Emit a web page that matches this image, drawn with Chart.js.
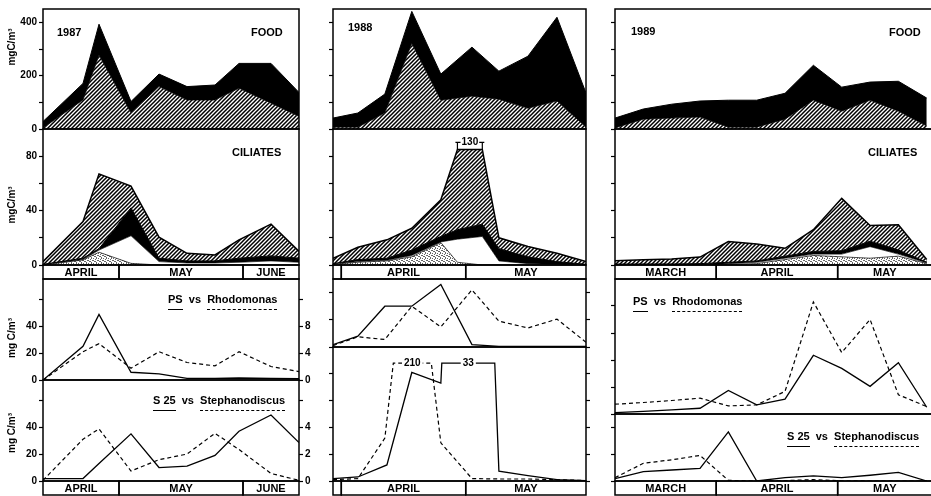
<!DOCTYPE html>
<html><head><meta charset="utf-8">
<script src="https://cdn.jsdelivr.net/npm/chart.js@4.4.1/dist/chart.umd.min.js"></script>
<style>
html,body{margin:0;padding:0;background:#fff;}
body{width:931px;height:496px;overflow:hidden;position:relative;}
canvas{position:absolute;}
.t{position:absolute;font-family:"Liberation Sans","Arimo",sans-serif;font-weight:bold;font-size:11px;color:#000;white-space:nowrap;line-height:1;}
.yt{transform:translate(-50%,-50%) rotate(-90deg);font-size:10px;}
.u{border-bottom:1.5px solid #000;padding-bottom:4px;}
.d{border-bottom:1.5px dashed #000;padding-bottom:4px;}
</style></head><body>
<script>
// ---------------- DATA (days counted from 1 April) ----------------
// 1987
const months87 = ['APRIL','MAY','JUNE'];
const monthStarts87 = [0,30,61];
const days87 = [11,21,25,33,40,47,54,60,68,75];
const foodHatched87 = [4,109,277,60,159,109,109,153,97,47];
const foodBlack87   = [24,62,116,43,47,50,56,93,149,90];
const cilStipple87  = [0,3.7,9.4,1.2,0,0,0,0,0,0];
const cilWhite87    = [0,0.3,1.6,20.3,2.5,1.5,1.5,2,3,2];
const cilBlack87    = [0.5,1,1,20.5,2.5,1.5,1.5,3,3.7,3];
const cilHatched87  = [2,27,55,16,15.5,5.6,4.4,13.5,23.3,5];
const ps87    = [0,5,9.75,1.15,0.9,0.25,0.25,0.3,0.25,0.2];      // right axis
const rhodo87 = [0,21,27,8.75,21,13,10.5,21,10,6.25];            // left axis
const s25_87  = [0.18,0.18,1.3,3.5,1.0,1.1,1.9,3.7,4.9,2.85];    // right axis
const steph87 = [0.5,31,38.7,7.4,15.8,20,35.4,23.4,5.6,0.5];     // left axis

// 1988
const months88 = ['MARCH','APRIL','MAY'];
const monthStarts88 = [-31,0,30];
const foodDays88 = [-2,4,10.5,17,24,31.5,38,45,52,59];
const foodHatched88 = [7,7,60,321,108,123,112,78,105,7];
const foodBlack88   = [34,53,71,120,98,184,105,195,314,128];
const cilDays88 = [-2,4,11,17,24,28,34,38,45,52,59];
const cilStipple88 = [0.5,2,3,6,16.5,2,0,0,0,0,0];
const cilWhite88   = [0,0.5,0.5,1,0.5,17,21,3,1,0.5,0];
const cilBlack88   = [0.5,1.5,1.5,4,4,7,9,9,5,2,0.5];
const cilHatched88 = [4,9,13.5,16,27,104,100,8,7.6,6.1,2];
const ps88    = [0.35,1.6,6,6,9.2,0.35,0.1,0.1,0.1,0.1];        // foodDays88, right axis
const rhodo88 = [1,7.5,5.5,30,14.75,42,19,14,20.5,3.5];          // foodDays88, left axis
const s25_88  = [0.18,0.3,1.2,8.1,7.3,33,33,0.74,0.4,0.1,0.02];  // cilDays88, right axis
const steph88 = [1,1.8,32,210,28.5,1.8,1.5,1.5,1,0.3];           // foodDays88, left axis
const CIL_CAP88 = 85, STEPH_CAP88 = 88, S25_CAP88 = 8.8;

// 1989
const months89 = ['MARCH','APRIL','MAY'];
const monthStarts89 = [-31,0,30];
const days89 = [-25,-18,-11,-4,3,10,17,24,31,38,45,52];
const foodHatched89 = [4,37,41,45,7,7,37,108,67,108,67,11];
const foodBlack89   = [37,38,52,60,101,101,97,131,90,68,112,105];
const cilStipple89 = [0,0,0,0,0.5,1,4,7,6,5,6.5,1];
const cilWhite89   = [0,0,0,0,0.5,1,1,1,2,8.5,1.5,0.5];
const cilBlack89   = [0.7,0.8,0.8,1,1,1,1.5,2,2.5,4,3,0.5];
const cilHatched89 = [2.5,3,3.7,4.8,15.3,12.5,5.8,16,38.5,11.5,18.6,2];
const ps89    = [0.2,0.4,0.6,0.85,3.5,1.35,2.2,8.7,6.75,4.1,7.6,1];
const rhodo89 = [7.25,8.5,10,11.75,6,6.75,16.75,83,45.5,70,14.25,5.5];
const s25_89  = [0.18,0.7,0.82,0.94,3.67,0,0.25,0.38,0.25,0.43,0.64,0];
const steph89 = [2.5,13.2,15.8,19.1,0.5,0,0.3,1,0.2,0,0,0];

// tick values
const foodTicks = [0,100,200,300,400], foodLabels = [0,200,400];
const cilTicks = [0,20,40,60,80], cilLabels = [0,40,80];

// ---------------- HELPERS ----------------
const FONT = '"Liberation Sans","Arimo",sans-serif';
function makeHatch(){ const c=document.createElement('canvas'); c.width=4; c.height=4; const g=c.getContext('2d');
  g.fillStyle='#fff'; g.fillRect(0,0,4,4); g.strokeStyle='#000'; g.lineWidth=1.5; g.beginPath();
  g.moveTo(-1,5); g.lineTo(5,-1); g.moveTo(-1,1); g.lineTo(1,-1); g.moveTo(3,5); g.lineTo(5,3); g.stroke();
  return g.createPattern(c,'repeat'); }
function makeStipple(){ const c=document.createElement('canvas'); c.width=5; c.height=5; const g=c.getContext('2d');
  g.fillStyle='#fff'; g.fillRect(0,0,5,5); g.fillStyle='rgba(0,0,0,0.6)';
  [[0,0],[2,1],[4,2],[1,3],[3,4],[3,0],[0,2],[2,3]].forEach(p=>g.fillRect(p[0],p[1],1,1));
  return g.createPattern(c,'repeat'); }
const HATCH = makeHatch(), STIP = makeStipple();

function pts(xs, ys){ return xs.map((x,i)=>({x, y: ys[i]})); }
function cumulate(layers){ const out=[]; let acc=layers[0].map(()=>0);
  layers.forEach(l=>{ acc=acc.map((a,i)=>a+l[i]); out.push(acc.slice()); }); return out; }
function capSeries(xs, ys, cap){ const out=[];
  for(let i=0;i<xs.length;i++){
    if(i>0){ const y0=ys[i-1], y1=ys[i];
      if((y0-cap)*(y1-cap)<0){ const t=(cap-y0)/(y1-y0); out.push({x: xs[i-1]+t*(xs[i]-xs[i-1]), y: cap}); } }
    out.push({x: xs[i], y: Math.min(ys[i], cap)}); }
  return out; }
function areaSets(xs, layers, styles, cap){
  return cumulate(layers).map((ys,k)=>({
    data: pts(xs, ys.map(v=> cap!=null ? Math.min(v,cap) : v)),
    yAxisID:'y', fill: k===0 ? 'origin' : '-1',
    backgroundColor: styles[k].bg, borderColor:'#000', borderWidth: styles[k].bw,
    pointRadius:0, tension:0 }));
}
const foodStyles = [{bg:HATCH,bw:0.8},{bg:'#000',bw:1}];
const cilStyles = [{bg:STIP,bw:0.7},{bg:'#fff',bw:0.7},{bg:'#000',bw:1},{bg:HATCH,bw:1.5}];
function solid(data){ return {data, yAxisID:'y2', borderColor:'#000', borderWidth:1.3, fill:false, pointRadius:0, tension:0}; }
function dashed(data){ return {data, yAxisID:'y', borderColor:'#000', borderWidth:1.2, borderDash:[4,3], fill:false, pointRadius:0, tension:0}; }

function axis(pos, max, ticks, labels, width){
  return { type:'linear', position:pos, min:0, max,
    afterBuildTicks: sc => { sc.ticks = ticks.map(v=>({value:v})); },
    afterFit: sc => { sc.width = width; sc.paddingTop=0; sc.paddingBottom=0; },
    grid:{display:true, drawOnChartArea:false, drawTicks:true, tickLength:4, tickColor:'#000', tickWidth:1.2, color:'#000'},
    border:{display:false},
    ticks:{display: !!labels, color:'#000', padding:2, font:{family:FONT, size:10, weight:'bold'},
      callback: v => (labels && labels.includes(v)) ? String(v) : ''} };
}
const framePlugin = {id:'frame', afterDraw(c){ const a=c.chartArea, g=c.ctx; g.save(); g.strokeStyle='#000'; g.lineWidth=1.5;
  g.strokeRect(a.left,a.top,a.right-a.left,a.bottom-a.top); g.restore(); }};
function monthPlugin(m){ return {id:'monthBar', afterDraw(c){ if(!m) return; const a=c.chartArea, xs=c.scales.x, g=c.ctx;
  g.save(); g.strokeStyle='#000'; g.lineWidth=1.5; g.fillStyle='#000'; g.font='bold 11px '+FONT; g.textAlign='center'; g.textBaseline='middle';
  m.names.forEach((n,i)=>{ const s=Math.max(m.starts[i], xs.min);
    const e=Math.min(i+1<m.starts.length ? m.starts[i+1] : m.starts[i]+31, xs.max); if(e<=s) return;
    const x0=xs.getPixelForValue(s), x1=xs.getPixelForValue(e); g.strokeRect(x0, a.bottom, x1-x0, 14);
    if(g.measureText(n).width < x1-x0-4) g.fillText(n,(x0+x1)/2, a.bottom+8); });
  g.restore(); }}; }
function capPlugin(items){ return {id:'capLabels', afterDatasetsDraw(c){ const g=c.ctx;
  (items||[]).forEach(it=>{ const meta=c.getDatasetMeta(it.ds); const data=c.data.datasets[it.ds].data; const idx=[];
    data.forEach((p,i)=>{ if(p.y===it.cap) idx.push(i); }); if(!idx.length) return;
    const x1=meta.data[idx[0]].x, x2=meta.data[idx[idx.length-1]].x, y=c.scales[meta.yAxisID].getPixelForValue(it.cap);
    g.save(); g.font='bold 10px '+FONT; g.textAlign='center'; g.textBaseline='middle'; g.strokeStyle='#000'; g.fillStyle='#000'; g.lineWidth=1.2;
    const w=g.measureText(it.text).width, mid=(x1+x2)/2;
    if(it.mode==='above'){ const yt=y-7; g.beginPath(); g.moveTo(x1,y); g.lineTo(x1,yt); g.moveTo(x2,y); g.lineTo(x2,yt);
      g.moveTo(x1-2,yt); g.lineTo(x2+2,yt); g.stroke(); g.fillStyle='#fff'; g.fillRect(mid-w/2-1,yt-5,w+2,10); g.fillStyle='#000'; g.fillText(it.text,mid,yt); }
    else { g.fillStyle='#fff'; g.fillRect(mid-w/2-2,y-6,w+4,12); g.fillStyle='#000'; g.fillText(it.text,mid,y); }
    g.restore(); }); }}; }

function panel(s){
  const padL=s.padL, padR=s.padR, padT=6, padB=s.month?18:6;
  const W=padL+(s.R-s.L)+padR, H=padT+(s.B-s.T)+padB;
  const cv=document.createElement('canvas'); cv.width=W; cv.height=H;
  cv.style.left=(s.L-padL)+'px'; cv.style.top=(s.T-padT)+'px'; cv.style.width=W+'px'; cv.style.height=H+'px';
  document.body.appendChild(cv);
  const scales={ x:{type:'linear', min:s.xMin, max:s.xMax, display:false},
    y: axis('left', s.yMax, s.yTicks, s.yLabels, padL) };
  const showR = s.y2 && s.y2.show;
  scales.y2 = showR ? axis('right', s.y2.max, s.y2.ticks, s.y2.labels, padR)
                    : {type:'linear', position:'right', min:0, max:(s.y2?s.y2.max:1), display:false};
  new Chart(cv, {type:'line', data:{datasets:s.datasets},
    options:{responsive:false, animation:false, devicePixelRatio:1, events:[],
      layout:{padding:{top:padT, bottom:padB, left:0, right: showR?0:padR}},
      scales, plugins:{legend:{display:false}, tooltip:{enabled:false}}},
    plugins:[framePlugin, monthPlugin(s.month), capPlugin(s.caps)]});
}

// ---------------- PANELS ----------------
const C1={L:43,R:299,padL:30,padR:14,xMin:11,xMax:75};
const C2={L:333,R:586,padL:6,padR:6,xMin:-2,xMax:59};
const C3={L:615,R:932,padL:6,padR:0,xMin:-25,xMax:53.3};

// 1987
panel({...C1,T:9,B:129,yMax:450,yTicks:foodTicks,yLabels:foodLabels,
  datasets:areaSets(days87,[foodHatched87,foodBlack87],foodStyles)});
panel({...C1,T:129,B:265,yMax:100,yTicks:cilTicks,yLabels:cilLabels,month:{names:months87,starts:monthStarts87},
  datasets:areaSets(days87,[cilStipple87,cilWhite87,cilBlack87,cilHatched87],cilStyles)});
panel({...C1,T:279,B:380,yMax:75,yTicks:[0,20,40,60],yLabels:[0,20,40],
  y2:{show:true,max:15,ticks:[0,4,8,12],labels:[0,4,8]},
  datasets:[solid(pts(days87,ps87)),dashed(pts(days87,rhodo87))]});
panel({...C1,T:380,B:481,yMax:75,yTicks:[0,20,40,60],yLabels:[0,20,40],
  y2:{show:true,max:7.5,ticks:[0,2,4,6],labels:[0,2,4]},month:{names:months87,starts:monthStarts87},
  datasets:[solid(pts(days87,s25_87)),dashed(pts(days87,steph87))]});

// 1988
panel({...C2,T:9,B:129,yMax:450,yTicks:foodTicks,yLabels:null,
  datasets:areaSets(foodDays88,[foodHatched88,foodBlack88],foodStyles)});
panel({...C2,T:129,B:265,yMax:100,yTicks:cilTicks,yLabels:null,month:{names:months88,starts:monthStarts88},
  datasets:areaSets(cilDays88,[cilStipple88,cilWhite88,cilBlack88,cilHatched88],cilStyles,CIL_CAP88),
  caps:[{ds:3,cap:CIL_CAP88,text:'130',mode:'above'}]});
panel({...C2,T:279,B:347,yMax:50,yTicks:[0,20,40],yLabels:null,
  y2:{show:true,max:10,ticks:[0,4,8],labels:null},
  datasets:[solid(pts(foodDays88,ps88)),dashed(pts(foodDays88,rhodo88))]});
panel({...C2,T:347,B:481,yMax:100,yTicks:[0,20,40,60,80],yLabels:null,
  y2:{show:true,max:10,ticks:[0,2,4,6,8],labels:null},month:{names:months88,starts:monthStarts88},
  datasets:[solid(capSeries(cilDays88,s25_88,S25_CAP88)),dashed(capSeries(foodDays88,steph88,STEPH_CAP88))],
  caps:[{ds:1,cap:STEPH_CAP88,text:'210',mode:'inline'},{ds:0,cap:S25_CAP88,text:'33',mode:'inline'}]});

// 1989
panel({...C3,T:9,B:129,yMax:450,yTicks:foodTicks,yLabels:null,
  datasets:areaSets(days89,[foodHatched89,foodBlack89],foodStyles)});
panel({...C3,T:129,B:265,yMax:100,yTicks:cilTicks,yLabels:null,month:{names:months89,starts:monthStarts89},
  datasets:areaSets(days89,[cilStipple89,cilWhite89,cilBlack89,cilHatched89],cilStyles)});
panel({...C3,T:279,B:414,yMax:100,yTicks:[0,20,40,60,80],yLabels:null,
  y2:{show:false,max:20},
  datasets:[solid(pts(days89,ps89)),dashed(pts(days89,rhodo89))]});
panel({...C3,T:414,B:481,yMax:50,yTicks:[0,20,40],yLabels:null,
  y2:{show:false,max:5},month:{names:months89,starts:monthStarts89},
  datasets:[solid(pts(days89,s25_89)),dashed(pts(days89,steph89))]});

// ---------------- TEXT ----------------
function txt(html, left, top, cls){ const d=document.createElement('div'); d.className='t'+(cls?' '+cls:''); d.innerHTML=html;
  d.style.left=left+'px'; d.style.top=top+'px'; document.body.appendChild(d); }
txt('1987',57,27); txt('FOOD',251,27); txt('CILIATES',232,147);
txt('<span class="u">PS</span>&nbsp;&nbsp;vs&nbsp;&nbsp;<span class="d">Rhodomonas</span>',168,294);
txt('<span class="u">S 25</span>&nbsp;&nbsp;vs&nbsp;&nbsp;<span class="d">Stephanodiscus</span>',153,395);
txt('1988',348,22);
txt('1989',631,26); txt('FOOD',889,27); txt('CILIATES',868,147);
txt('<span class="u">PS</span>&nbsp;&nbsp;vs&nbsp;&nbsp;<span class="d">Rhodomonas</span>',633,296);
txt('<span class="u">S 25</span>&nbsp;&nbsp;vs&nbsp;&nbsp;<span class="d">Stephanodiscus</span>',787,431);
txt('mgC/m³',12,47,'yt'); txt('mgC/m³',12,205,'yt'); txt('mg C/m³',12,338,'yt'); txt('mg C/m³',12,433,'yt');
</script>
</body></html>
